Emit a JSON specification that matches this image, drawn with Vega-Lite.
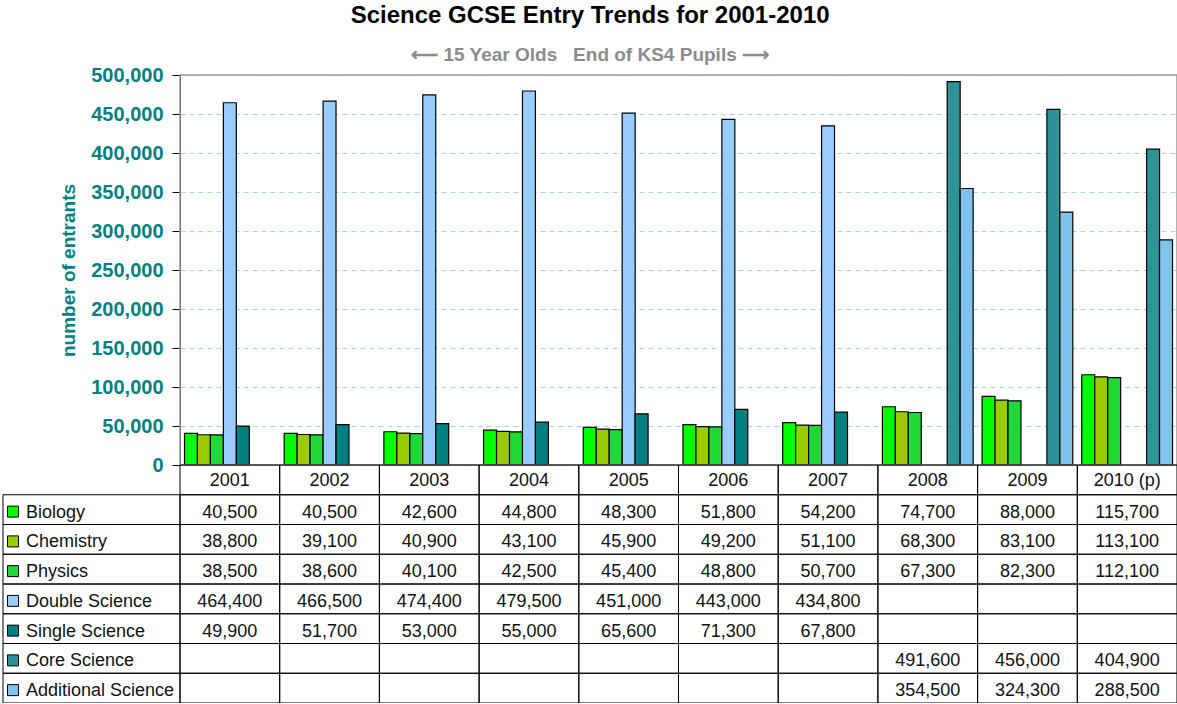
{
  "$schema": "https://vega.github.io/schema/vega-lite/v6.json",
  "width": 997,
  "height": 628,
  "autosize": {"type": "none"},
  "padding": {"left": 180, "top": 75, "right": 0, "bottom": 0},
  "background": "white",
  "config": {"font": "Liberation Sans", "view": {"stroke": null}},
  "title": {
    "text": "Science GCSE Entry Trends for 2001-2010",
    "subtitle": "\u27f5 15 Year Olds\u00a0\u00a0\u00a0End of KS4 Pupils \u27f6",
    "anchor": "middle",
    "frame": "bounds",
    "font": "Liberation Sans",
    "fontSize": 24,
    "fontWeight": "bold",
    "color": "black",
    "subtitleFont": "Liberation Sans",
    "subtitleFontSize": 19,
    "subtitleFontWeight": "bold",
    "subtitleColor": "#8c8c8c",
    "subtitlePadding": 18,
    "offset": 0
  },
  "datasets": {
    "entries": [
      {"year": "2001", "series": "Biology", "value": 40500},
      {"year": "2002", "series": "Biology", "value": 40500},
      {"year": "2003", "series": "Biology", "value": 42600},
      {"year": "2004", "series": "Biology", "value": 44800},
      {"year": "2005", "series": "Biology", "value": 48300},
      {"year": "2006", "series": "Biology", "value": 51800},
      {"year": "2007", "series": "Biology", "value": 54200},
      {"year": "2008", "series": "Biology", "value": 74700},
      {"year": "2009", "series": "Biology", "value": 88000},
      {"year": "2010 (p)", "series": "Biology", "value": 115700},
      {"year": "2001", "series": "Chemistry", "value": 38800},
      {"year": "2002", "series": "Chemistry", "value": 39100},
      {"year": "2003", "series": "Chemistry", "value": 40900},
      {"year": "2004", "series": "Chemistry", "value": 43100},
      {"year": "2005", "series": "Chemistry", "value": 45900},
      {"year": "2006", "series": "Chemistry", "value": 49200},
      {"year": "2007", "series": "Chemistry", "value": 51100},
      {"year": "2008", "series": "Chemistry", "value": 68300},
      {"year": "2009", "series": "Chemistry", "value": 83100},
      {"year": "2010 (p)", "series": "Chemistry", "value": 113100},
      {"year": "2001", "series": "Physics", "value": 38500},
      {"year": "2002", "series": "Physics", "value": 38600},
      {"year": "2003", "series": "Physics", "value": 40100},
      {"year": "2004", "series": "Physics", "value": 42500},
      {"year": "2005", "series": "Physics", "value": 45400},
      {"year": "2006", "series": "Physics", "value": 48800},
      {"year": "2007", "series": "Physics", "value": 50700},
      {"year": "2008", "series": "Physics", "value": 67300},
      {"year": "2009", "series": "Physics", "value": 82300},
      {"year": "2010 (p)", "series": "Physics", "value": 112100},
      {"year": "2001", "series": "Double Science", "value": 464400},
      {"year": "2002", "series": "Double Science", "value": 466500},
      {"year": "2003", "series": "Double Science", "value": 474400},
      {"year": "2004", "series": "Double Science", "value": 479500},
      {"year": "2005", "series": "Double Science", "value": 451000},
      {"year": "2006", "series": "Double Science", "value": 443000},
      {"year": "2007", "series": "Double Science", "value": 434800},
      {"year": "2008", "series": "Double Science", "value": null},
      {"year": "2009", "series": "Double Science", "value": null},
      {"year": "2010 (p)", "series": "Double Science", "value": null},
      {"year": "2001", "series": "Single Science", "value": 49900},
      {"year": "2002", "series": "Single Science", "value": 51700},
      {"year": "2003", "series": "Single Science", "value": 53000},
      {"year": "2004", "series": "Single Science", "value": 55000},
      {"year": "2005", "series": "Single Science", "value": 65600},
      {"year": "2006", "series": "Single Science", "value": 71300},
      {"year": "2007", "series": "Single Science", "value": 67800},
      {"year": "2008", "series": "Single Science", "value": null},
      {"year": "2009", "series": "Single Science", "value": null},
      {"year": "2010 (p)", "series": "Single Science", "value": null},
      {"year": "2001", "series": "Core Science", "value": null},
      {"year": "2002", "series": "Core Science", "value": null},
      {"year": "2003", "series": "Core Science", "value": null},
      {"year": "2004", "series": "Core Science", "value": null},
      {"year": "2005", "series": "Core Science", "value": null},
      {"year": "2006", "series": "Core Science", "value": null},
      {"year": "2007", "series": "Core Science", "value": null},
      {"year": "2008", "series": "Core Science", "value": 491600},
      {"year": "2009", "series": "Core Science", "value": 456000},
      {"year": "2010 (p)", "series": "Core Science", "value": 404900},
      {"year": "2001", "series": "Additional Science", "value": null},
      {"year": "2002", "series": "Additional Science", "value": null},
      {"year": "2003", "series": "Additional Science", "value": null},
      {"year": "2004", "series": "Additional Science", "value": null},
      {"year": "2005", "series": "Additional Science", "value": null},
      {"year": "2006", "series": "Additional Science", "value": null},
      {"year": "2007", "series": "Additional Science", "value": null},
      {"year": "2008", "series": "Additional Science", "value": 354500},
      {"year": "2009", "series": "Additional Science", "value": 324300},
      {"year": "2010 (p)", "series": "Additional Science", "value": 288500}
    ]
  },
  "data": {"name": "entries"},
  "resolve": {"scale": {"x": "independent", "y": "independent"}},
  "layer": [
    {
      "layer": [
        {
          "transform": [{"filter": "datum.value != null"}],
          "mark": {"type": "bar", "stroke": "black", "strokeWidth": 1.2},
          "encoding": {
            "x": {"field": "year", "type": "nominal", "sort": null, "scale": {"paddingInner": 0.09, "paddingOuter": 0.045}, "axis": null},
            "xOffset": {"field": "series", "type": "nominal", "scale": {"domain": ["Biology", "Chemistry", "Physics", "Double Science", "Single Science", "Core Science", "Additional Science"], "paddingInner": 0, "paddingOuter": 0}},
            "y": {
              "field": "value", "type": "quantitative",
              "scale": {"domain": [0, 500000], "range": [390, 0], "nice": false, "zero": true},
              "axis": {
                "orient": "left",
                "values": [0, 50000, 100000, 150000, 200000, 250000, 300000, 350000, 400000, 450000, 500000],
                "format": ",.0f",
                "labelFont": "Liberation Sans", "labelFontSize": 20, "labelFontWeight": "bold", "labelColor": "#008080", "labelPadding": 9,
                "tickColor": "black", "tickSize": 8, "domainColor": "black",
                "grid": true, "gridColor": "#a6d0f5", "gridDash": [5, 4], "gridWidth": 1,
                "title": "number of entrants", "titleFont": "Liberation Sans", "titleFontSize": 19, "titleFontWeight": "bold", "titleColor": "#008080", "titlePadding": 12
              }
            },
            "color": {
              "field": "series", "type": "nominal",
              "scale": {"domain": ["Biology", "Chemistry", "Physics", "Double Science", "Single Science", "Core Science", "Additional Science"], "range": ["#00ff00", "#99cc00", "#20d838", "#99ccff", "#008080", "#2e9398", "#80c4ee"]},
              "legend": null
            }
          }
        },
        {
          "data": {"values": [{}]},
          "mark": {"type": "rect", "filled": false, "stroke": "#9a9a9a", "strokeWidth": 1.5},
          "encoding": {
            "y": {"datum": 0, "type": "quantitative"},
            "y2": {"datum": 500000}
          }
        }
      ]
    },
    {
      "layer": [
        {
          "transform": [{"filter": "datum.series === 'Biology'"}],
          "mark": {"type": "rect", "filled": false, "stroke": "black", "strokeWidth": 1},
          "encoding": {
            "x": {"field": "year", "type": "nominal", "sort": null, "scale": {"paddingInner": 0, "paddingOuter": 0}, "axis": null},
            "y": {"datum": "hdr", "type": "nominal", "scale": {"domain": ["hdr", "Biology", "Chemistry", "Physics", "Double Science", "Single Science", "Core Science", "Additional Science"], "range": [390, 628], "paddingInner": 0, "paddingOuter": 0}, "axis": null}
          }
        },
        {
          "mark": {"type": "rect", "filled": false, "stroke": "black", "strokeWidth": 1},
          "encoding": {
            "x": {"field": "year", "type": "nominal", "sort": null},
            "y": {"field": "series", "type": "nominal"}
          }
        },
        {
          "transform": [{"filter": "datum.series === 'Biology'"}],
          "mark": {"type": "text", "fontSize": 18, "dy": 1, "color": "#111111"},
          "encoding": {
            "x": {"field": "year", "type": "nominal", "sort": null},
            "y": {"datum": "hdr", "type": "nominal"},
            "text": {"field": "year"}
          }
        },
        {
          "transform": [{"filter": "datum.value != null"}],
          "mark": {"type": "text", "fontSize": 18, "dy": 3, "color": "#111111"},
          "encoding": {
            "x": {"field": "year", "type": "nominal", "sort": null},
            "y": {"field": "series", "type": "nominal"},
            "text": {"field": "value", "type": "quantitative", "format": ",.0f"}
          }
        }
      ]
    },
    {
      "transform": [{"filter": "datum.year === '2001'"}],
      "layer": [
        {
          "mark": {"type": "rect", "filled": false, "stroke": "black", "strokeWidth": 1},
          "encoding": {
            "x": {"datum": "label", "type": "nominal", "scale": {"domain": ["label"], "range": [-177, 0], "paddingInner": 0, "paddingOuter": 0}, "axis": null},
            "y": {"field": "series", "type": "nominal", "scale": {"domain": ["hdr", "Biology", "Chemistry", "Physics", "Double Science", "Single Science", "Core Science", "Additional Science"], "range": [390, 628], "paddingInner": 0, "paddingOuter": 0}, "axis": null}
          }
        },
        {
          "mark": {"type": "point", "shape": "square", "filled": true, "size": 121, "stroke": "black", "strokeWidth": 1, "opacity": 1, "xOffset": 10, "yOffset": 2},
          "encoding": {
            "x": {"datum": "label", "type": "nominal", "bandPosition": 0},
            "y": {"field": "series", "type": "nominal"},
            "color": {"field": "series", "type": "nominal", "legend": null}
          }
        },
        {
          "mark": {"type": "text", "align": "left", "dx": 23, "dy": 3, "fontSize": 18, "color": "#111111"},
          "encoding": {
            "x": {"datum": "label", "type": "nominal", "bandPosition": 0},
            "y": {"field": "series", "type": "nominal"},
            "text": {"field": "series"}
          }
        }
      ]
    }
  ]
}
